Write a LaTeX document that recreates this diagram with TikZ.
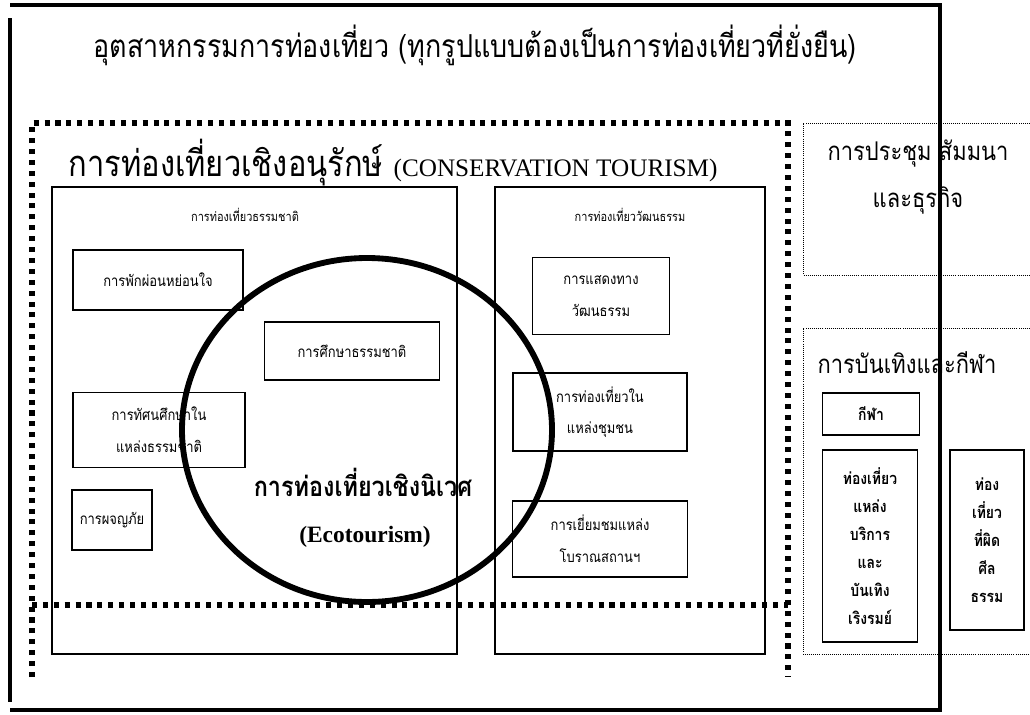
\documentclass[tikz,border=0pt]{standalone}
\usepackage{fontspec}
\setmainfont{Liberation Serif}
\newfontfamily\thai[Script=Thai,FakeStretch=0.85]{Loma}
\tikzset{
  frameline/.style={line width=4pt},
  bigdots/.style={line width=4.5pt, dash pattern=on 4.3pt off 5pt},
  thindots/.style={line width=0.8pt, densely dotted},
  region/.style={line width=1.6pt},
  ring/.style={line width=5pt},
  item/.style={draw, line width=1.5pt, align=center, inner sep=0pt,
    font=\thai\fontsize{13}{27}\selectfont},
  narrow/.style={draw, line width=1.5pt, align=center, inner sep=0pt,
    font=\thai\bfseries\fontsize{14}{23.8}\selectfont},
  head/.style={font=\thai\fontsize{11}{13}\selectfont},
  bighead/.style={align=center, font=\thai\fontsize{22}{40}\selectfont},
}
\begin{document}
\begin{tikzpicture}[x=0.03cm,y=-0.03cm]
 \useasboundingbox (0,0) rectangle (1030,714);
 %\draw [help lines] (0,0) grid [step=50] (1030,714);
 \node [font=\thai\fontsize{27}{30}\selectfont] (industry) at (475,45)
   {อุตสาหกรรมการท่องเที่ยว (ทุกรูปแบบต้องเป็นการท่องเที่ยวที่ยั่งยืน)};
 % conservation tourism
 \draw [bigdots] (32,677) -- (32,123) -- (788,123) -- (788,677);
 \draw [bigdots] (32,605) -- (788,605);
 \node [font=\thai\fontsize{31}{34}\selectfont] (cons) at (393,163)
   {การท่องเที่ยวเชิงอนุรักษ์ {\rmfamily\fontsize{21.5}{24}\selectfont (CONSERVATION TOURISM)}};
 \draw [region] (52,187) rectangle (457,654);
 \draw [region] (495,187) rectangle (765,654);
 \node [head] (nature) at (245,215) {การท่องเที่ยวธรรมชาติ};
 \node [head] (culture) at (630,215) {การท่องเที่ยววัฒนธรรม};
 %
 \node [item, minimum width=5.1cm, minimum height=1.8cm] (relax) at (158,280) {การพักผ่อนหย่อนใจ};
 \node [item, minimum width=5.25cm, minimum height=1.74cm] (study) at (352,351) {การศึกษาธรรมชาติ};
 \node [item, minimum width=5.16cm, minimum height=2.25cm] (excursion) at (159,430) {การทัศนศึกษาใน\\แหล่งธรรมชาติ};
 \node [item, minimum width=2.4cm, minimum height=1.8cm] (adventure) at (112,520) {การผจญภัย};
 \node [item, minimum width=4.11cm, minimum height=2.31cm] (show) at (601,296) {การแสดงทาง\\วัฒนธรรม};
 \node [item, minimum width=5.22cm, minimum height=2.34cm] (community) at (600,412) {การท่องเที่ยวใน\\แหล่งชุมชน};
 \node [item, minimum width=5.25cm, minimum height=2.28cm] (ancient) at (600,539) {การเยี่ยมชมแหล่ง\\โบราณสถานฯ};
 %
 \draw [ring] (367,430) ellipse [x radius=185, y radius=172];
 \node [font=\thai\bfseries\fontsize{23.5}{26}\selectfont] (eco) at (363,482) {การท่องเที่ยวเชิงนิเวศ};
 \node [font=\bfseries\fontsize{20}{24}\selectfont] (ecoeng) at (365,537) {(Ecotourism)};
 % meetings
 \draw [thindots] (1030,123) -- (803,123) -- (803,275) -- (1030,275);
 \node [bighead] (meeting) at (918,177) {การประชุม สัมมนา\\และธุรกิจ};
 % entertainment and sport
 \draw [thindots] (1030,328) -- (803,328) -- (803,654) -- (1030,654);
 \node [bighead] (enter) at (907,363) {การบันเทิงและกีฬา};
 \node [narrow, minimum width=2.91cm, minimum height=1.26cm] (sport) at (871,414) {กีฬา};
 \node [narrow, minimum width=2.85cm, minimum height=5.76cm] (venue) at (870,546)
   {ท่องเที่ยว\\แหล่ง\\บริการ\\และ\\บันเทิง\\เริงรมย์};
 \node [narrow, minimum width=2.22cm, minimum height=5.4cm] (immoral) at (987,540)
   {ท่อง\\เที่ยว\\ที่ผิด\\ศีล\\ธรรม};
 % outer frame
 \draw [frameline] (10,5) -- (940,5) -- (940,710) -- (10,710);
 \draw [frameline] (10,18) -- (10,702);
\end{tikzpicture}
\end{document}
